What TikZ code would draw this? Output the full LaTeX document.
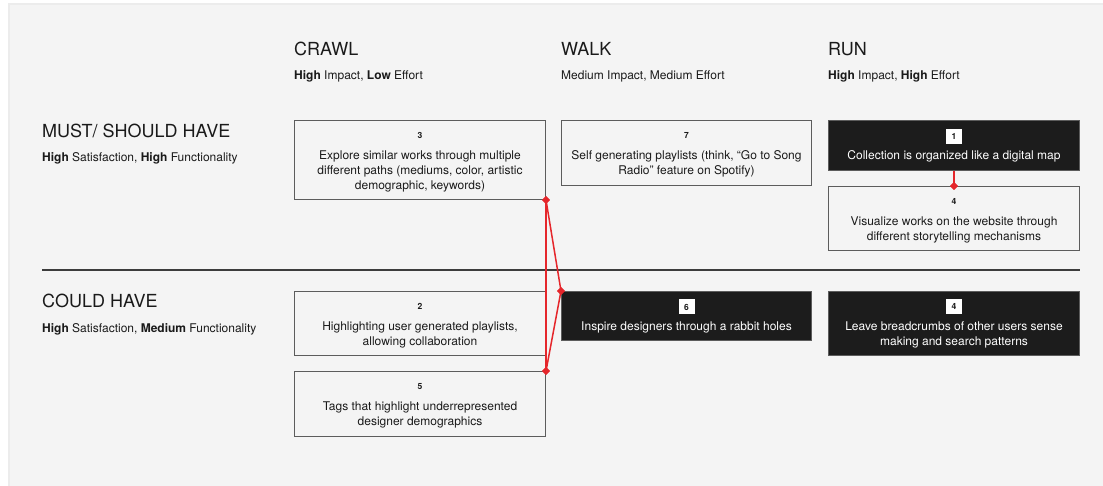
\documentclass[tikz,border=0pt]{standalone}
\usepackage{fontspec}
\setmainfont{TeX Gyre Heros}
\usetikzlibrary{shapes.geometric}
\definecolor{panel}{HTML}{F4F4F4}
\definecolor{shadow}{HTML}{ECECEC}
\definecolor{boxline}{HTML}{5C5C5C}
\definecolor{ink}{HTML}{1A1A1A}
\definecolor{dark}{HTML}{1C1C1C}
\definecolor{redc}{HTML}{E5262B}
\tikzset{
  wbox/.style={draw=boxline, line width=1pt, fill=panel, anchor=north west, inner sep=0pt},
  bbox/.style={draw=boxline, line width=1pt, fill=dark, anchor=north west, inner sep=0pt},
  num/.style={font=\fontsize{8.5}{9}\selectfont\bfseries, text=ink, inner sep=0pt, anchor=center},
  bnum/.style={font=\fontsize{8.5}{9}\selectfont\bfseries, text=ink, fill=white, minimum width=16pt, minimum height=15pt, inner sep=0pt, anchor=center},
  txt/.style={font=\fontsize{12}{15}\selectfont, text=ink, align=center, inner sep=0pt, anchor=north},
  btxt/.style={font=\fontsize{12}{15}\selectfont, text=white, align=center, inner sep=0pt, anchor=north},
  head/.style={font=\fontsize{18}{20}\selectfont, text=ink, inner sep=0pt, anchor=base west},
  sub/.style={font=\fontsize{12}{13}\selectfont, text=ink, inner sep=0pt, anchor=base west},
  dia/.style={diamond, fill=redc, minimum size=8pt, inner sep=0pt},
  redline/.style={draw=redc, line width=1.5pt},
}
\begin{document}
\begin{tikzpicture}[x=1pt,y=-1pt]
\useasboundingbox (0,0) rectangle (1103,486);
\fill[white] (0,0) rectangle (1103,486);
\fill[shadow] (8,3) rectangle (1103,486);
\fill[panel] (10,5) rectangle (1103,486);

% column headers
\node[head] (hcrawl) at (294,56) {CRAWL};
\node[sub] (scrawl) at (294,79.5) {\textbf{High} Impact, \textbf{Low} Effort};
\node[head] (hwalk) at (561,56) {WALK};
\node[sub] (swalk) at (561,79.5) {Medium Impact, Medium Effort};
\node[head] (hrun) at (828,56) {RUN};
\node[sub] (srun) at (828,79.5) {\textbf{High} Impact, \textbf{High} Effort};

% row headers
\node[head] (hmust) at (42,138) {MUST/ SHOULD HAVE};
\node[sub] (smust) at (42,162) {\textbf{High} Satisfaction, \textbf{High} Functionality};
\node[head] (hcould) at (42,308) {COULD HAVE};
\node[sub] (scould) at (42,332) {\textbf{High} Satisfaction, \textbf{Medium} Functionality};

% divider
\coordinate (dl) at (42,270);
\coordinate (dr) at (1080,270);
\draw[line width=1.5pt, draw=ink!85] (dl) -- (dr);

% boxes
\node[wbox, minimum width=251pt, minimum height=79pt] (b3) at (294,120) {};
\node[num] (b3n) at ([yshift=-15pt]b3.north) {3};
\node[txt] (b3t) at ([yshift=-28.5pt]b3.north) {\strut Explore similar works through multiple\\different paths (mediums, color, artistic\\demographic, keywords)};

\node[wbox, minimum width=250pt, minimum height=65pt] (b7) at (561,120) {};
\node[num] (b7n) at ([yshift=-15pt]b7.north) {7};
\node[txt] (b7t) at ([yshift=-28.5pt]b7.north) {\strut Self generating playlists (think, “Go to Song\\Radio” feature on Spotify)};

\node[bbox, minimum width=251pt, minimum height=50pt] (b1) at (828,120) {};
\node[bnum] (b1n) at ([yshift=-16.5pt]b1.north) {1};
\node[btxt] (b1t) at ([yshift=-28.5pt]b1.north) {\strut Collection is organized like a digital map};

\node[wbox, minimum width=251pt, minimum height=64pt] (b4) at (828,186) {};
\node[num] (b4n) at ([yshift=-15.5pt]b4.north) {4};
\node[txt] (b4t) at ([yshift=-29pt]b4.north) {\strut Visualize works on the website through\\different storytelling mechanisms};

\node[wbox, minimum width=251pt, minimum height=64pt] (b2) at (294,291) {};
\node[num] (b2n) at ([yshift=-15pt]b2.north) {2};
\node[txt] (b2t) at ([yshift=-28.5pt]b2.north) {\strut Highlighting user generated playlists,\\allowing collaboration};

\node[wbox, minimum width=251pt, minimum height=65pt] (b5) at (294,371) {};
\node[num] (b5n) at ([yshift=-15.5pt]b5.north) {5};
\node[txt] (b5t) at ([yshift=-29pt]b5.north) {\strut Tags that highlight underrepresented\\designer demographics};

\node[bbox, minimum width=250pt, minimum height=49pt] (b6) at (561,291) {};
\node[bnum] (b6n) at ([yshift=-16pt]b6.north) {6};
\node[btxt] (b6t) at ([yshift=-28.5pt]b6.north) {\strut Inspire designers through a rabbit holes};

\node[bbox, minimum width=251pt, minimum height=64pt] (b8) at (828,291) {};
\node[bnum] (b8n) at ([yshift=-15.5pt]b8.north) {4};
\node[btxt] (b8t) at ([yshift=-28.5pt]b8.north) {\strut Leave breadcrumbs of other users sense\\making and search patterns};

% red connectors
\node[dia] (d3) at (b3.south east) {};
\node[dia] (d6) at (b6.north west) {};
\node[dia] (d5) at (b5.north east) {};
\node[dia] (d4) at (b4.north) {};
\draw[redline] (d3.center) -- (d5.center);
\draw[redline] (d3.center) -- (d6.center) -- (d5.center);
\draw[redline] (b1.south) -- (d4.center);
\node[dia] at (d3) {};
\node[dia] at (d6) {};
\node[dia] at (d5) {};
\node[dia] at (d4) {};
\end{tikzpicture}
\end{document}
